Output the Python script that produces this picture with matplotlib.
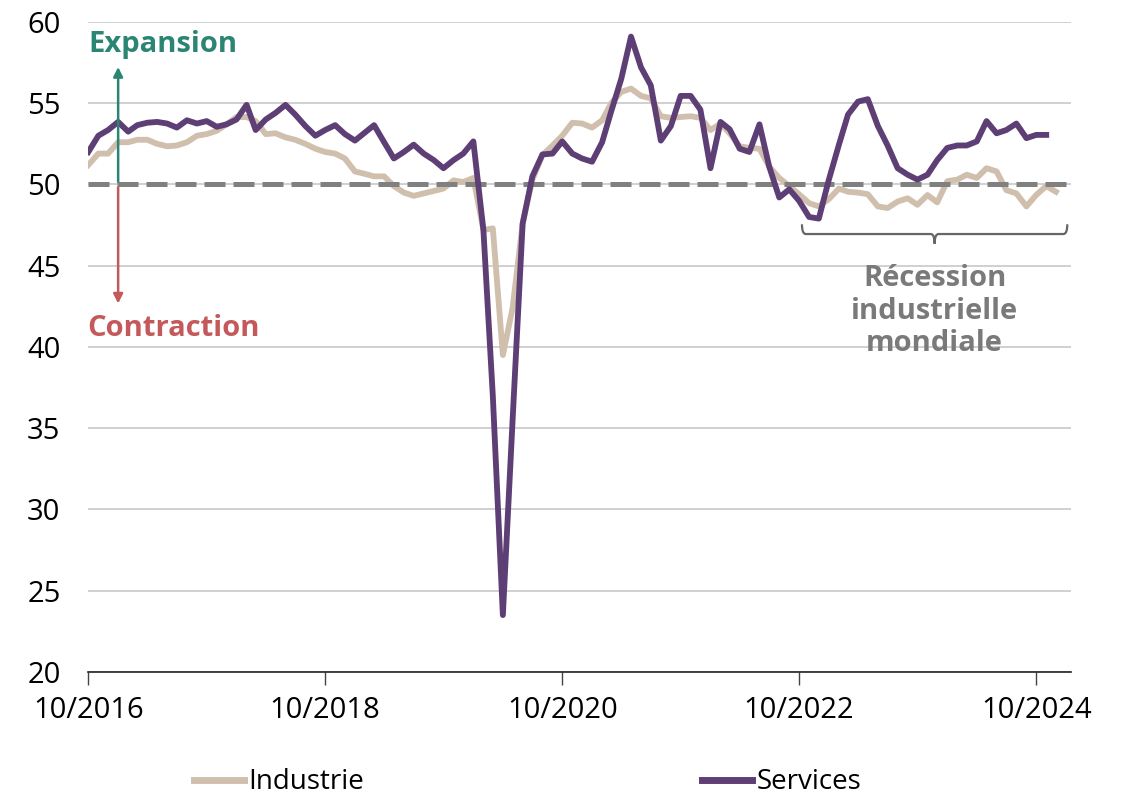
import numpy as np
import pandas as pd
import matplotlib
matplotlib.use("Agg")
import matplotlib.pyplot as plt
import matplotlib.dates as mdates
from matplotlib.path import Path
from matplotlib.patches import PathPatch

plt.rcParams['font.family'] = ['Open Sans', 'DejaVu Sans']

# monthly PMI readings, 10/2016 onwards
industrie = [51.2, 51.9, 51.9, 52.6, 52.6, 52.75, 52.75, 52.5, 52.35, 52.4,
             52.6, 53.0, 53.1, 53.3, 53.7, 54.15, 54.15, 53.9, 53.1, 53.15,
             52.9, 52.75, 52.5, 52.2, 52.0, 51.9, 51.6, 50.8, 50.65, 50.5,
             50.5, 49.9, 49.5, 49.3, 49.45, 49.6, 49.75, 50.25, 50.15, 50.4,
             47.2, 47.3, 39.5, 42.4, 47.6, 50.3, 51.8, 52.4, 53.0, 53.8,
             53.75, 53.5, 53.95, 55.0, 55.7, 55.9, 55.45, 55.3, 54.2, 54.1,
             54.15, 54.2, 54.1, 53.35, 53.75, 53.15, 52.35, 52.25, 52.2, 51.1,
             50.4, 49.9, 49.4, 48.85, 48.65, 49.1, 49.75, 49.55, 49.5, 49.4,
             48.65, 48.55, 48.95, 49.15, 48.75, 49.35, 48.9, 50.2, 50.3, 50.6,
             50.4, 51.0, 50.8, 49.65, 49.45, 48.65, 49.35, 49.9, 49.55]
services = [52.0, 53.0, 53.35, 53.85, 53.25, 53.65, 53.8, 53.85, 53.75, 53.5,
            53.95, 53.75, 53.9, 53.55, 53.7, 54.0, 54.9, 53.35, 54.0, 54.4,
            54.9, 54.3, 53.6, 53.0, 53.35, 53.65, 53.1, 52.7, 53.2, 53.65,
            52.6, 51.6, 52.0, 52.45, 51.9, 51.5, 51.0, 51.5, 51.9, 52.65,
            47.2, 37.0, 23.5, 35.5, 47.6, 50.5, 51.85, 51.9, 52.65, 51.9,
            51.6, 51.4, 52.6, 54.5, 56.5, 59.1, 57.2, 56.1, 52.7, 53.6,
            55.45, 55.45, 54.6, 51.0, 53.85, 53.4, 52.2, 52.0, 53.7, 51.1,
            49.2, 49.7, 49.0, 48.0, 47.9, 50.3, 52.45, 54.3, 55.1, 55.25,
            53.6, 52.4, 51.0, 50.6, 50.3, 50.6, 51.5, 52.25, 52.4, 52.4,
            52.65, 53.9, 53.15, 53.35, 53.75, 52.85, 53.05, 53.05]

dates_ind = pd.date_range('2016-10-01', periods=len(industrie), freq='MS')
dates_srv = pd.date_range('2016-10-01', periods=len(services), freq='MS')
tick_dates = pd.to_datetime(['2016-10-01', '2018-10-01', '2020-10-01', '2022-10-01', '2024-10-01'])

c_ind = '#d1bfae'
c_srv = '#5e3f75'
c_teal = '#2b8573'
c_red = '#c4595b'
c_gray = '#808080'

fig = plt.figure(figsize=(11.32, 7.99), dpi=100)
ax = fig.add_axes([0.078, 0.159, 0.868, 0.8135])

ax.set_ylim(20, 60)
ax.set_xlim(pd.Timestamp('2016-10-01'), pd.Timestamp('2025-01-16'))
ax.set_yticks(range(20, 61, 5))
ax.yaxis.grid(True, color='#c8c8c8', lw=1.2, zorder=0)
ax.set_axisbelow(True)

ax.plot(dates_ind, industrie, color=c_ind, lw=4.2, label='Industrie', zorder=2, solid_joinstyle='round')
ax.axhline(50, color=c_gray, lw=3.6, dashes=(4.2, 1.6), zorder=3)
ax.plot(dates_srv, services, color=c_srv, lw=4.2, label='Services', zorder=4, solid_joinstyle='round')

for s in ['top', 'right', 'left']:
    ax.spines[s].set_visible(False)
ax.spines['bottom'].set_color('#222222')
ax.spines['bottom'].set_linewidth(1.2)

ax.set_xticks(tick_dates)
ax.xaxis.set_major_formatter(mdates.DateFormatter('%m/%Y'))
ax.tick_params(axis='x', length=9, width=1, color='#444444', labelsize=21, pad=8)
ax.tick_params(axis='y', length=0, labelsize=21, pad=20)

# expansion / contraction arrows
xa = pd.Timestamp('2017-01-01')
ax.annotate('', xy=(xa, 57.4), xytext=(xa, 50),
            arrowprops=dict(arrowstyle='-|>', color=c_teal, lw=1.8, mutation_scale=14), zorder=5)
ax.annotate('', xy=(xa, 42.5), xytext=(xa, 50),
            arrowprops=dict(arrowstyle='-|>', color=c_red, lw=1.8, mutation_scale=14), zorder=5)
ax.text(pd.Timestamp('2017-05-20'), 58.6, 'Expansion', color=c_teal, fontsize=21,
        fontweight='bold', ha='center', va='center')
ax.text(pd.Timestamp('2017-06-20'), 41.15, 'Contraction', color=c_red, fontsize=21,
        fontweight='bold', ha='center', va='center')

# brace over the recession period
x0 = mdates.date2num(pd.Timestamp('2022-10-10'))
x1 = mdates.date2num(pd.Timestamp('2025-01-05'))
xm = (x0 + x1) / 2
r = 12
yt, yb, yp = 47.55, 46.95, 46.35
verts = [(x0, yt), (x0, yb), (x0 + r, yb),
         (xm - r, yb), (xm, yb), (xm, yp),
         (xm, yb), (xm + r, yb),
         (x1 - r, yb), (x1, yb), (x1, yt)]
codes = [Path.MOVETO, Path.CURVE3, Path.CURVE3,
         Path.LINETO, Path.CURVE3, Path.CURVE3,
         Path.CURVE3, Path.CURVE3,
         Path.LINETO, Path.CURVE3, Path.CURVE3]
ax.add_patch(PathPatch(Path(verts, codes), fill=False, edgecolor='#666666', lw=1.6, zorder=5))
ax.text(mdates.num2date(xm), 42.2, 'Récession\nindustrielle\nmondiale', color='#7a7a7a',
        fontsize=21, fontweight='bold', ha='center', va='center', linespacing=1.15)

leg = ax.legend(loc='center', bbox_to_anchor=(0.447, -0.17), ncol=2, frameon=False,
                fontsize=20, handlelength=1.8, handletextpad=0.15, columnspacing=12.2)
for h in leg.get_lines():
    h.set_linewidth(5)

fig.savefig('out.png', dpi=100)
